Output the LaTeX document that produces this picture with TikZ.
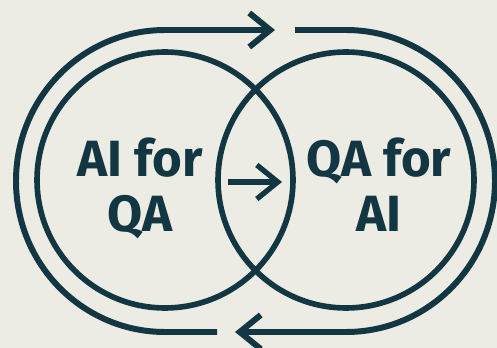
\documentclass[tikz,border=0pt]{standalone}
\usepackage{fontspec}
\usepackage{tikz}
\usepackage{xcolor}
\usetikzlibrary{arrows.meta}
\newfontfamily\loopfont{Fira Sans}
\definecolor{ringteal}{RGB}{18, 54, 66}
\definecolor{paper}{RGB}{236, 235, 228}

\begin{document}
\begin{tikzpicture}[x=0.02cm, y=-0.02cm,
    ring/.style={circle, draw=ringteal, line width=3.2pt, minimum size=5.12cm, inner sep=0pt},
    loop/.style={draw=ringteal, line width=3.4pt, -{Straight Barb[length=4.2mm, width=6.8mm]}},
    ringtext/.style={font=\loopfont\bfseries\fontsize{29}{31.3}\selectfont, text=ringteal, align=center, anchor=base, inner sep=0pt}
]

% Background
\fill[paper] (0,0) rectangle (497,348);
\useasboundingbox (0,0) rectangle (497,348);

% Two circles
\node[ring] (aiqa) at (165,180) {};
\node[ring] (qaai) at (346,180) {};

% Texts (base = last line)
\node[ringtext] (aiqatext) at (140,231) {AI for\\QA};
\node[ringtext] (qaaitext) at (379,231) {QA for\\AI};

% Arrow in the overlap
\coordinate (midstart) at (228,182);
\coordinate (midend) at (282,182);
\draw[loop, line width=3pt] (midstart) -- (midend);

% Outer loop, left half
\coordinate (botgap) at (217,332);
\coordinate (botleft) at (165,332);
\coordinate (toptip) at (275,30);
\draw[loop] (botgap) -- (botleft) arc[start angle=90, end angle=270, x radius=149, y radius=151] -- (toptip);

% Outer loop, right half
\coordinate (topgap) at (295,30);
\coordinate (topright) at (346,30);
\coordinate (bottip) at (235,332);
\draw[loop] (topgap) -- (topright) arc[start angle=270, end angle=450, x radius=149, y radius=151] -- (bottip);

\end{tikzpicture}
\end{document}
